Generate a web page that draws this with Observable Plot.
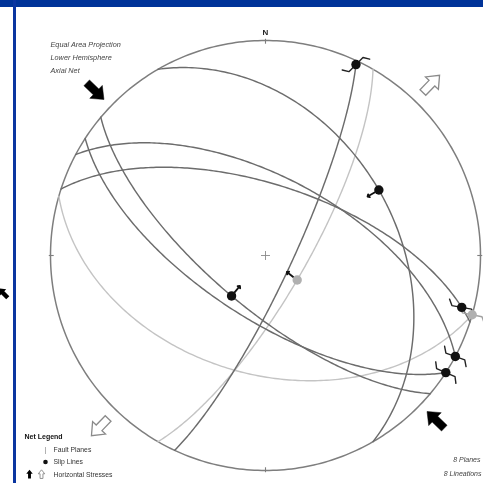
<!DOCTYPE html>
<html>
<head>
<meta charset="utf-8">
<script src="https://cdn.jsdelivr.net/npm/d3@7"></script>
<script src="https://cdn.jsdelivr.net/npm/@observablehq/plot@0.6"></script>
<style>
  html, body { margin: 0; padding: 0; background: #fff; }
  #wrap { position: relative; width: 483px; height: 483px; overflow: hidden; background: #fff; }
  #wrap svg { display: block; filter: grayscale(1); }
  .bar-top { position: absolute; left: 0; top: 0; width: 483px; height: 7px; background: #003399; }
  .bar-left { position: absolute; left: 13px; top: 0; width: 3px; height: 483px; background: #0a35a0; }
</style>
</head>
<body>
<div id="wrap">
  <div id="chart"></div>
  <div class="bar-top"></div>
  <div class="bar-left"></div>
</div>
<script>
// Fault planes (right-hand-rule strike / dip, degrees)
const planeStrike = [25, 30, 106, 330, 298, 288, 130, 123];
const planeDip    = [80, 75, 44, 39, 60, 63, 70, 66];
const planeFaint  = [false, true, true, false, false, false, false, false];

// Slip lines: rake measured in each plane from its strike direction
const slipRake  = [2, 92, 0, 90, 180, 173, 90, 0];
const slipSense = ["strike", "dip", "strike", "dip", "strike", "strike", "dip", "strike"];

// Horizontal stress directions (trend, degrees)
const shmaxTrend = 134;
const shminTrend = 44;

// Text
const headerLines = ["Equal Area Projection", "Lower Hemisphere", "Axial Net"];
const legendTitle = "Net Legend";
const legendItems = ["Fault Planes", "Slip Lines", "Horizontal Stresses"];
const northLabel = "N";

// Layout of the net inside the 483 x 483 frame
const W = 483, H = 483, CX = 265, CY = 255, RPX = 215;
const rad = Math.PI / 180;
const DARK = "#6c6c6c", LIGHT = "#c4c4c4";

// Unit vectors (east, north, up) along strike and down dip
function planeAxes(strike, dip) {
  const s = strike * rad, dd = (strike + 90) * rad, d = dip * rad;
  return [
    [Math.sin(s), Math.cos(s), 0],
    [Math.sin(dd) * Math.cos(d), Math.cos(dd) * Math.cos(d), -Math.sin(d)]
  ];
}

// Lambert equal-area, lower hemisphere, unit primitive circle
function toNet([e, n, u]) {
  if (u > 0) { e = -e; n = -n; u = -u; }
  const plunge = Math.asin(Math.min(1, -u));
  const trend = Math.atan2(e, n);
  const r = Math.SQRT2 * Math.sin((Math.PI / 2 - plunge) / 2);
  return {x: r * Math.sin(trend), y: r * Math.cos(trend)};
}

// Great circles
const planePoints = [];
planeStrike.forEach((s, i) => {
  const [S, D] = planeAxes(s, planeDip[i]);
  for (let k = 0; k <= 180; k++) {
    const t = k * rad;
    const v = S.map((c, j) => Math.cos(t) * c + Math.sin(t) * D[j]);
    planePoints.push({plane: i, faint: planeFaint[i], ...toNet(v)});
  }
});

// Slip line poles on their planes
const slips = planeStrike.map((s, i) => {
  const [S, D] = planeAxes(s, planeDip[i]);
  const rk = slipRake[i] * rad;
  const v = S.map((c, j) => Math.cos(rk) * c + Math.sin(rk) * D[j]);
  return {i, sense: slipSense[i], faint: planeFaint[i], ...toNet(v)};
});

// Dip-slip arrows: point toward the net centre, starting just off the dot
const dipArrows = slips.filter(d => d.sense === "dip").map(d => {
  const len = Math.hypot(d.x, d.y);
  const ux = -d.x / len, uy = -d.y / len;
  return {x: d.x + ux * 5 / RPX, y: d.y + uy * 5 / RPX, rotate: Math.atan2(ux, uy) / rad};
});

// Strike-slip half-arrow symbols through the dot (lightning-bolt shape)
const zigzags = [];
slips.filter(d => d.sense === "strike").forEach(d => {
  const phi = 0.7 * Math.atan2(-d.y, d.x);
  const ux = Math.cos(phi), uy = Math.sin(phi);
  const nx = -Math.sin(phi), ny = Math.cos(phi);
  const h = 10, b = 7;
  const pts = [
    [-h * ux - b * (0.85 * nx + 0.5 * ux), -h * uy - b * (0.85 * ny + 0.5 * uy)],
    [-h * ux, -h * uy],
    [h * ux, h * uy],
    [h * ux + b * (0.85 * nx + 0.5 * ux), h * uy + b * (0.85 * ny + 0.5 * uy)]
  ];
  pts.forEach(([px, py]) => zigzags.push({id: d.i, faint: d.faint, x: d.x + px / RPX, y: d.y - py / RPX}));
});

// Primitive circle and cardinal ticks
const primitive = d3.range(0, 361).map(t => ({x: Math.sin(t * rad), y: Math.cos(t * rad)}));
const ticks = [0, 90, 180, 270].map(t => ({
  x1: 0.985 * Math.sin(t * rad), y1: 0.985 * Math.cos(t * rad),
  x2: 1.008 * Math.sin(t * rad), y2: 1.008 * Math.cos(t * rad)
}));

// Block arrow drawn as a custom symbol, rotated clockwise from up
function arrowSymbol(angleDeg, scale) {
  const a = angleDeg * rad;
  const shape = [[0, -13], [9, -2], [4, -2], [4, 11], [-4, 11], [-4, -2], [-9, -2]];
  return {
    draw(ctx) {
      shape.forEach(([x, y], k) => {
        const X = scale * (x * Math.cos(a) - y * Math.sin(a));
        const Y = scale * (x * Math.sin(a) + y * Math.cos(a));
        if (k) ctx.lineTo(X, Y); else ctx.moveTo(X, Y);
      });
      ctx.closePath();
    }
  };
}

// Stress arrows outside the net: compression inward, extension outward
const stressArrows = [
  {pos: shmaxTrend + 180, dir: shmaxTrend, solid: true},
  {pos: shmaxTrend, dir: shmaxTrend + 180, solid: true},
  {pos: shminTrend, dir: shminTrend, solid: false},
  {pos: shminTrend + 180, dir: shminTrend + 180, solid: false}
];
const stressMarks = stressArrows.map(a => Plot.dot([a], {
  x: d => 1.105 * Math.sin(d.pos * rad),
  y: d => 1.105 * Math.cos(d.pos * rad),
  symbol: arrowSymbol(a.dir, 1),
  r: 10,
  fill: a.solid ? "#000" : "#fff",
  stroke: a.solid ? "#000" : "#8a8a8a",
  strokeWidth: a.solid ? 0.5 : 1.3
}));

// One text mark per line, stacked from a top offset
const headerMarks = headerLines.map((line, i) => Plot.text([line], {
  frameAnchor: "top-left", dx: 50, dy: 44.5 + 13 * i,
  fontSize: 7.3, fontStyle: "italic", fill: "#444", textAnchor: "start", lineAnchor: "middle"
}));
const legendMarks = legendItems.map((line, i) => Plot.text([line], {
  frameAnchor: "top-left", dx: 53, dy: 449 + 12.5 * i,
  fontSize: 6.8, fill: "#333", textAnchor: "start", lineAnchor: "middle"
}));

const chart = Plot.plot({
  width: W,
  height: H,
  margin: 0,
  x: {domain: [-CX / RPX, (W - CX) / RPX], range: [0, W], axis: null},
  y: {domain: [-(H - CY) / RPX, CY / RPX], range: [H, 0], axis: null},
  style: {background: "#fff", fontFamily: "Liberation Sans, Arial, sans-serif"},
  marks: [
    // net outline
    Plot.line(primitive, {x: "x", y: "y", stroke: "#7e7e7e", strokeWidth: 1.5}),
    Plot.link(ticks, {x1: "x1", y1: "y1", x2: "x2", y2: "y2", stroke: "#7e7e7e", strokeWidth: 1.1}),
    Plot.dot([0], {x: () => 0, y: () => 0, symbol: "plus", r: 3, stroke: "#8a8a8a", strokeWidth: 0.9}),
    Plot.text([northLabel], {x: () => 0, y: () => 1, dy: -8, fontWeight: "bold", fontSize: 8, fill: "#222"}),

    // fault planes
    Plot.line(planePoints.filter(d => d.faint), {x: "x", y: "y", z: "plane", stroke: LIGHT, strokeWidth: 1.4}),
    Plot.line(planePoints.filter(d => !d.faint), {x: "x", y: "y", z: "plane", stroke: DARK, strokeWidth: 1.45}),

    // slip symbols
    Plot.line(zigzags, {x: "x", y: "y", z: "id", stroke: d => d.faint ? "#a0a0a0" : "#222", strokeWidth: 1.4}),
    Plot.vector(dipArrows, {x: "x", y: "y", rotate: "rotate", length: 8, anchor: "start", stroke: "#111", strokeWidth: 1.9}),
    Plot.dot(slips, {x: "x", y: "y", r: 4.7, fill: d => d.faint ? "#b0b0b0" : "#111", stroke: "none"}),

    // horizontal stresses
    ...stressMarks,
    Plot.dot([0], {frameAnchor: "top-left", dx: 3, dy: 293, symbol: arrowSymbol(315, 0.55), r: 5, fill: "#000", stroke: "none"}),

    // header
    ...headerMarks,

    // counts
    Plot.text([`${planeStrike.length} Planes`], {frameAnchor: "top-right", dx: -3, dy: 459, fontSize: 7, fontStyle: "italic", fill: "#444", textAnchor: "end", lineAnchor: "middle"}),
    Plot.text([`${slipRake.length} Lineations`], {frameAnchor: "top-right", dx: -2, dy: 473, fontSize: 7, fontStyle: "italic", fill: "#444", textAnchor: "end", lineAnchor: "middle"}),

    // legend
    Plot.text([legendTitle], {frameAnchor: "top-left", dx: 24, dy: 436, fontSize: 7, fontWeight: "bold", fill: "#111", textAnchor: "start", lineAnchor: "middle"}),
    Plot.text(["|"], {frameAnchor: "top-left", dx: 45, dy: 449, fontSize: 8, fill: "#8a8a8a", textAnchor: "middle", lineAnchor: "middle"}),
    Plot.dot([0], {frameAnchor: "top-left", dx: 45, dy: 461.5, r: 2.3, fill: "#111", stroke: "none"}),
    Plot.dot([0], {frameAnchor: "top-left", dx: 29, dy: 474, symbol: arrowSymbol(0, 0.36), r: 4, fill: "#000", stroke: "none"}),
    Plot.dot([0], {frameAnchor: "top-left", dx: 41, dy: 474, symbol: arrowSymbol(0, 0.36), r: 4, fill: "#fff", stroke: "#888", strokeWidth: 0.9}),
    ...legendMarks
  ]
});
document.getElementById("chart").appendChild(chart);
</script>
</body>
</html>
